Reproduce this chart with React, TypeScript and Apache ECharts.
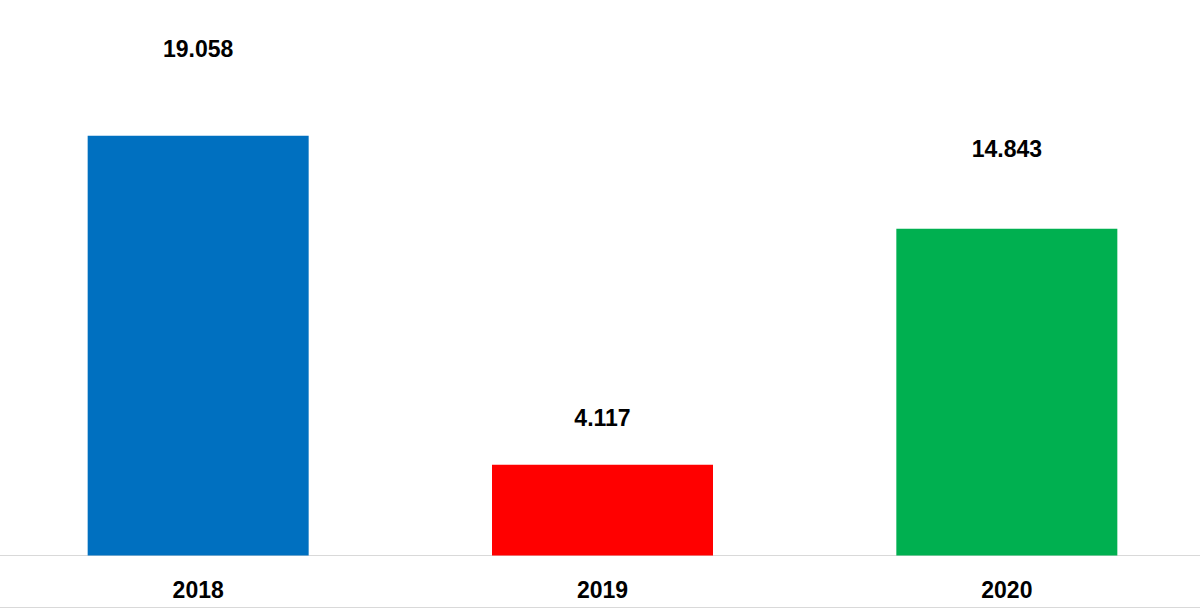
import React, { useEffect, useRef } from "react";
import * as echarts from "echarts";

const categories = ["2018", "2019", "2020"];
const values = [19.058, 4.117, 14.843];

const barColors = ["#0070C0", "#FF0000", "#00B050"];
const labelGaps = [74.5, 34.5, 67.5];

const fmt = (v: number) => v.toFixed(3);

export default function App() {
  const ref = useRef<HTMLDivElement>(null);
  useEffect(() => {
    document.body.style.margin = "0";
    document.body.style.overflow = "hidden";
    const chart = echarts.init(ref.current!, null, { renderer: "svg" });
    chart.setOption({
      animation: false,
      backgroundColor: "#ffffff",
      grid: { left: 0, right: 0, top: 5, bottom: 54.5, containLabel: false },
      xAxis: {
        type: "category",
        data: categories,
        axisLine: { show: true, lineStyle: { color: "#d9d9d9", width: 1 } },
        axisTick: { show: false },
        axisLabel: {
          margin: 22.5,
          fontFamily: "Liberation Sans, Arial, sans-serif",
          fontWeight: "bold",
          fontSize: 23,
          lineHeight: 24,
          color: "#000000",
        },
      },
      yAxis: {
        type: "value",
        min: 0,
        max: 25,
        show: false,
        splitLine: { show: false },
      },
      graphic: [
        {
          type: "line",
          shape: { x1: 0, y1: 607.5, x2: 1214, y2: 607.5 },
          style: { stroke: "#d9d9d9", lineWidth: 1 },
        },
      ],
      series: [
        {
          type: "bar",
          barWidth: 221,
          data: values.map((v, i) => ({
            value: v,
            itemStyle: { color: barColors[i] },
            label: {
              show: true,
              position: "top",
              distance: labelGaps[i],
              formatter: () => fmt(v),
              fontFamily: "Liberation Sans, Arial, sans-serif",
              fontWeight: "bold",
              fontSize: 23,
              lineHeight: 24,
              color: "#000000",
            },
          })),
        },
      ],
    });
    return () => chart.dispose();
  }, []);
  return (
    <div
      ref={ref}
      style={{ position: "fixed", left: -4.4, top: 0, width: 1213, height: 610 }}
    />
  );
}
